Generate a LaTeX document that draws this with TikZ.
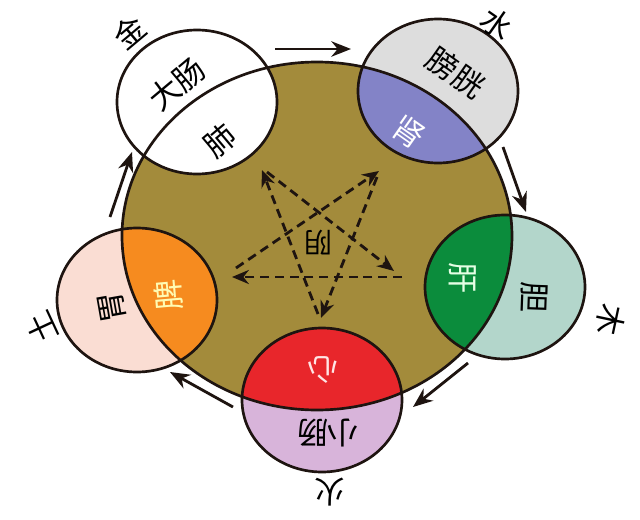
\documentclass[tikz,border=0pt]{standalone}
\usepackage{fontspec}
\setmainfont{Noto Sans CJK SC}
\usetikzlibrary{arrows.meta}

\definecolor{tuhuang}{HTML}{A38B3B}
\definecolor{huise}{HTML}{DDDDDD}
\definecolor{lanzi}{HTML}{8383C7}
\definecolor{shenlv}{HTML}{0B8C3C}
\definecolor{qianlv}{HTML}{B3D6CB}
\definecolor{hong}{HTML}{E8262B}
\definecolor{qianzi}{HTML}{D8B4DA}
\definecolor{qianfen}{HTML}{FADDD3}
\definecolor{cheng}{HTML}{F68B1F}
\definecolor{xian}{HTML}{1E1410}

\newcommand{\bigdisc}{(317,236) ellipse [x radius=195, y radius=174]}
\newcommand{\zangfu}[3]{%
  \fill[#2] (#1) ellipse [x radius=80, y radius=72];
  \begin{scope}
    \clip (#1) ellipse [x radius=80, y radius=72];
    \fill[#3] \bigdisc;
  \end{scope}}

\begin{document}
\begin{tikzpicture}[x=0.025cm, y=-0.025cm]
\tikzset{zi/.style={font=\fontsize{22}{22}\selectfont, inner sep=0pt},
  xiaozi/.style={font=\fontsize{20}{20}\selectfont, inner sep=0pt},
  sheng/.style={line width=2pt, xian, -{Stealth[length=14pt, width=11pt]}},
  ke/.style={line width=2pt, xian, dash pattern=on 6.5pt off 4pt, -{Stealth[length=12pt, width=10pt]}},
  bian/.style={line width=1.9pt, xian}}
\useasboundingbox (0,0) rectangle (640,520);
\fill[white] (0,0) rectangle (640,520);

\coordinate (jin) at (197,102);
\coordinate (shui) at (438,91);
\coordinate (mu) at (505,287);
\coordinate (huo) at (322,400);
\coordinate (tu) at (137,300);

\fill[tuhuang] \bigdisc;
\zangfu{jin}{white}{white}
\zangfu{shui}{huise}{lanzi}
\zangfu{mu}{qianlv}{shenlv}
\zangfu{huo}{qianzi}{hong}
\zangfu{tu}{qianfen}{cheng}
\draw[bian] \bigdisc;
\draw[bian] (jin) ellipse [x radius=80, y radius=72];
\draw[bian] (shui) ellipse [x radius=80, y radius=72];
\draw[bian] (mu) ellipse [x radius=80, y radius=72];
\draw[bian] (huo) ellipse [x radius=80, y radius=72];
\draw[bian] (tu) ellipse [x radius=80, y radius=72];

% sheng arrows
\coordinate (s1a) at (275,49);
\coordinate (s1b) at (351,49);
\coordinate (s2a) at (503,147);
\coordinate (s2b) at (526,212);
\coordinate (s3a) at (468,363);
\coordinate (s3b) at (413,407);
\coordinate (s4a) at (233,407);
\coordinate (s4b) at (170,372);
\coordinate (s5a) at (110,217);
\coordinate (s5b) at (132,152);
\draw[sheng] (s1a) -- (s1b);
\draw[sheng] (s2a) -- (s2b);
\draw[sheng] (s3a) -- (s3b);
\draw[sheng] (s4a) -- (s4b);
\draw[sheng] (s5a) -- (s5b);

% ke star
\coordinate (k1) at (262,170);
\coordinate (k1s) at (267,172);
\coordinate (k2) at (394,271);
\coordinate (k2s) at (402,277);
\coordinate (k3) at (232,277);
\coordinate (k3s) at (236,268);
\coordinate (k4) at (379,171);
\coordinate (k4s) at (377,177);
\coordinate (k5) at (321,318);
\coordinate (k5s) at (318,314);
\draw[ke] (k1s) -- (k2);
\draw[ke] (k2s) -- (k3);
\draw[ke] (k3s) -- (k4);
\draw[ke] (k4s) -- (k5);
\draw[ke] (k5s) -- (k1);

% labels
\node[zi, rotate=40] (t-jin) at (129,32) {金};
\node[zi, rotate=40] (t-dachang) at (177,84) {大肠};
\node[zi, rotate=40] (t-fei) at (220,141) {肺};
\node[zi, rotate=-35] (t-shui) at (497,24) {水};
\node[zi, rotate=-35] (t-pangguang) at (456,73) {膀胱};
\node[zi, rotate=-35, text=white] (t-shen) at (409,132) {肾};
\node[zi, rotate=-90, text=green!10] (t-gan) at (463,278) {肝};
\node[zi, rotate=-92] (t-dan) at (534,297) {胆};
\node[zi, rotate=-102] (t-mu) at (611,320) {木};
\node[zi, rotate=180, text=red!10] (t-xin) at (323,370) {心};
\node[zi, rotate=180] (t-xiaochang) at (328,433) {小肠};
\node[zi, rotate=180] (t-huo) at (330,492) {火};
\node[zi, rotate=95, text=yellow!30] (t-pi) at (168,295) {脾};
\node[zi, rotate=100] (t-wei) at (112,307) {胃};
\node[zi, rotate=115] (t-tu) at (42,328) {土};
\node[xiaozi, rotate=180] (t-yin) at (318,243) {阴};
\end{tikzpicture}
\end{document}
